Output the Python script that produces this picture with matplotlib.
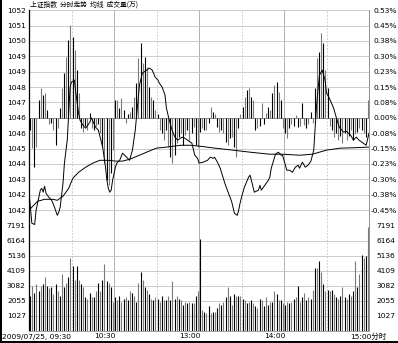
import numpy as np
import matplotlib
matplotlib.use('Agg')
import matplotlib.pyplot as plt
from matplotlib.patches import Rectangle

plt.rcParams['font.family'] = ['DejaVu Sans', 'Noto Sans CJK SC']

# ---------------- data ----------------
title = '上证指数  分时走势  均线  成交量(万)'
time_labels = ['2009/07/25, 09:30', '10:30', '13:00', '14:00', '15:00分时']
idx_labels = ['1052', '1051', '1050', '1049', '1049', '1048', '1047',
              '1046', '1046', '1045', '1044', '1043', '1042', '1042']
pct_labels = ['0.53%', '0.45%', '0.38%', '0.30%', '0.23%', '0.15%', '0.08%',
              '0.00%', '-0.08%', '-0.15%', '-0.23%', '-0.30%', '-0.38%', '-0.45%']
vol_ticks = [7191, 6164, 5136, 4109, 3082, 2055, 1027]

# price line: minute of session (0..240) and % change
price_min = [0, 2, 4, 5, 8, 9, 10, 11, 12, 14, 16, 18, 20, 21, 22, 23, 24, 25, 27, 28,
             29, 30, 32, 33, 35, 36, 38, 40, 43, 44, 47, 49, 52, 54, 55, 56, 57, 58, 59, 61,
             62, 64, 66, 69, 71, 73, 75, 77, 78, 80, 83, 85, 87, 89, 91, 92, 94, 96, 97, 99,
             101, 103, 105, 108, 110, 112, 115, 117, 119,
             120, 123, 126, 128, 130, 131, 133, 135, 138, 140, 143, 145, 147, 148, 149, 150,
             152, 155, 156, 157, 159, 162, 163, 164, 167, 169, 170, 171, 174, 176, 178, 179,
             182, 184, 186, 188, 190, 191, 193, 195, 197, 199, 201, 202, 203, 204, 205, 207,
             209, 210, 212, 215, 217, 219, 222, 224, 227, 229, 231, 233, 236, 238, 240]
price_pct = [-0.361, -0.519, -0.525, -0.455, -0.356, -0.347, -0.366, -0.337, -0.371, -0.391,
             -0.406, -0.440, -0.480, -0.465, -0.440, -0.381, -0.322, -0.223, -0.110, 0.023,
             0.151, 0.176, 0.186, 0.127, 0.023, -0.011, -0.036, -0.051, -0.021, 0.000,
             -0.046, -0.061, -0.144, -0.243, -0.307, -0.347, -0.366, -0.356, -0.307, -0.243,
             -0.223, -0.209, -0.174, -0.194, -0.209, -0.159, -0.061, 0.087, 0.161, 0.220,
             0.235, 0.245, 0.235, 0.201, 0.186, 0.171, 0.151, 0.112, 0.048, -0.011,
             -0.061, -0.095, -0.110, -0.095, -0.100, -0.110, -0.125, -0.184, -0.199,
             -0.223, -0.218, -0.209, -0.194, -0.199, -0.194, -0.218, -0.248, -0.317, -0.356,
             -0.411, -0.470, -0.480, -0.455, -0.420, -0.391, -0.342, -0.292, -0.282, -0.307,
             -0.366, -0.356, -0.332, -0.356, -0.327, -0.307, -0.292, -0.248, -0.179, -0.169,
             -0.184, -0.184, -0.258, -0.258, -0.268, -0.243, -0.233, -0.248, -0.218, -0.243,
             -0.233, -0.213, -0.159, -0.046, 0.063, 0.136, 0.210, 0.235, 0.186, 0.122,
             0.097, 0.048, 0.000, -0.046, -0.070, -0.066, -0.085, -0.110, -0.095, -0.110,
             -0.125, -0.135, -0.075]

# average price line
avg_min = [0, 2, 6, 11, 17, 20, 24, 28, 31, 35, 40, 45, 50, 56, 61, 66, 71, 78, 83, 90,
           97, 107, 114, 121, 131, 144, 156, 170, 179, 191, 200, 205, 210, 220, 230, 240]
avg_pct = [-0.456, -0.440, -0.411, -0.401, -0.401, -0.406, -0.386, -0.347, -0.297, -0.268,
           -0.243, -0.223, -0.209, -0.209, -0.213, -0.213, -0.204, -0.184, -0.169, -0.149,
           -0.144, -0.135, -0.135, -0.140, -0.149, -0.159, -0.169, -0.179, -0.179, -0.184,
           -0.179, -0.169, -0.159, -0.149, -0.147, -0.144]

# up/down strength bars in the price panel (%), morning and afternoon
ind_am = [-0.059, -0.148, -0.242, -0.143, 0.089, 0.148, 0.113, 0.123, 0.039, -0.030,
          -0.025, -0.059, -0.133, -0.049, 0.049, 0.148, 0.222, 0.301, 0.385, 0.458,
          0.399, 0.335, 0.237, 0.123, -0.049, -0.069, -0.039, -0.059, 0.025, -0.049,
          -0.059, -0.039, -0.030, -0.074, -0.143, -0.222, -0.306, -0.330, -0.271, -0.158,
          0.089, 0.089, 0.049, 0.099, 0.039, -0.025, 0.020, 0.030, 0.054, 0.104,
          0.173, 0.296, 0.370, 0.271, 0.301, 0.251, 0.153, 0.104, 0.089, 0.039,
          0.020, -0.059, -0.074, -0.108, -0.059, -0.143, -0.192, -0.222, -0.182, -0.123,
          -0.094, -0.074, -0.133, -0.084, -0.059, -0.108, -0.074, -0.044, -0.133, -0.143]
ind_pm = [-0.069, -0.049, -0.059, -0.059, -0.025, 0.054, 0.030, 0.020, -0.044, -0.069,
          -0.059, -0.074, -0.118, -0.133, -0.099, -0.094, -0.143, -0.192, -0.049, 0.020,
          0.054, 0.104, 0.138, 0.148, 0.104, 0.089, -0.059, -0.049, -0.039, 0.074,
          -0.030, 0.025, 0.054, 0.039, 0.123, 0.163, 0.177, 0.128, 0.089, -0.049,
          -0.074, -0.099, -0.049, -0.030, -0.039, 0.015, -0.044, -0.039, 0.074, -0.035,
          -0.049, -0.030, 0.030, -0.025, 0.148, 0.296, 0.325, 0.419, 0.370, 0.237,
          0.148, -0.039, -0.059, -0.094, -0.074, -0.108, -0.089, -0.123, -0.074, -0.108,
          -0.089, -0.059, -0.108, -0.079, -0.069, -0.049, -0.059, -0.074, -0.094, 0.089]

# volume bars, morning and afternoon
vol_am = [2400, 3100, 2600, 3200, 2700, 3100, 3200, 3700, 3100, 2900,
          3000, 2500, 3200, 2700, 2400, 3900, 3000, 3300, 3700, 5000,
          4400, 3500, 4400, 3500, 3200, 3000, 2300, 2200, 2600, 2300,
          2300, 2700, 3300, 2700, 3500, 4600, 3400, 3300, 3000, 2000,
          2300, 2100, 2400, 2000, 2200, 2300, 2100, 2700, 2600, 2400,
          2000, 3300, 4000, 3500, 3000, 2800, 2500, 2200, 2100, 2300,
          2200, 2000, 2400, 2100, 2100, 2400, 2100, 3400, 2200, 2400,
          2200, 2100, 1800, 2000, 1900, 2000, 1900, 1900, 2400, 2700]
vol_pm = [6300, 1400, 1300, 1200, 1700, 1200, 1300, 1300, 1600, 1900,
          1800, 2000, 2300, 3000, 2400, 1800, 2500, 2400, 2400, 2400,
          2200, 2100, 1900, 2000, 2100, 1900, 1700, 1600, 2200, 2100,
          1700, 2300, 1800, 2000, 2000, 2700, 2500, 2100, 2100, 1900,
          1800, 2000, 1900, 2000, 2200, 2300, 3100, 2000, 2300, 2600,
          2100, 2300, 2200, 2800, 4300, 4300, 4800, 4000, 3200, 2700,
          2800, 2700, 2800, 2500, 2300, 2200, 2400, 3000, 2300, 2200,
          2500, 2400, 2700, 4800, 3000, 3900, 5200, 5000, 5100, 7100]

# ---------------- layout ----------------
W, H = 398, 343
fig = plt.figure(figsize=(W / 100, H / 100), dpi=100)
L, R = 29, 369
P_TOP, P_BOT, V_BOT = 10.2, 225.5, 331.0
ax = fig.add_axes([L / W, 1 - P_BOT / H, (R - L) / W, (P_BOT - P_TOP) / H])
axv = fig.add_axes([L / W, 1 - V_BOT / H, (R - L) / W, (V_BOT - P_BOT) / H])

FS = 5.4
GRID = '#c4c4c4'
step = 0.53 / 7
pct_ticks = np.arange(7, -7, -1) * step

def slot_positions(n, start):
    return start + (np.arange(n) + 0.5) * (120.0 / n)

def alt_colors(n):
    return ['#000000' if i % 2 == 0 else '#7a7a7a' for i in range(n)]

for a in (ax, axv):
    a.set_xlim(0, 240)
    a.set_xticks([])
    for m in (30, 90, 150, 210):
        a.axvline(m, color=GRID, lw=0.6, ls=(0, (2, 2)), zorder=0)
    for m in (60, 120, 180):
        a.axvline(m, color='#b0b0b0', lw=0.7, zorder=0)
    a.spines['top'].set_visible(False)
    a.spines['left'].set_color('black')
    a.spines['left'].set_linewidth(0.9)
    a.spines['right'].set_color('#909090')
    a.spines['right'].set_linewidth(0.7)
    a.spines['bottom'].set_color('#a0a0a0')
    a.spines['bottom'].set_linewidth(0.7)

# price panel
ax.set_ylim(-0.53, 0.53)
for t in pct_ticks:
    ax.axhline(t, color=GRID, lw=0.6, zorder=0)
ax.axhline(0, color='#909090', lw=0.7, zorder=1)

for vals, start in ((ind_am, 0), (ind_pm, 120)):
    pos = slot_positions(len(vals), start)
    ax.vlines(pos, 0, vals, colors=alt_colors(len(vals)), lw=0.8, zorder=2)

ax.plot(avg_min, avg_pct, color='black', lw=0.7, zorder=3)
ax.plot(price_min, price_pct, color='black', lw=0.7, zorder=4)

ax.set_yticks(pct_ticks)
ax.set_yticklabels(idx_labels)
ax.tick_params(axis='y', length=0, pad=2.3, labelsize=FS)

ax2 = ax.twinx()
ax2.set_ylim(-0.53, 0.53)
ax2.set_yticks(pct_ticks)
ax2.set_yticklabels(pct_labels)
ax2.tick_params(axis='y', length=0, pad=20.0, labelsize=FS)
for lab in ax2.get_yticklabels():
    lab.set_horizontalalignment('right')
for s in ax2.spines.values():
    s.set_visible(False)

# volume panel
axv.set_ylim(0, 7191)
for t in vol_ticks[1:]:
    axv.axhline(t, color=GRID, lw=0.6, zorder=0)
for vals, start in ((vol_am, 0), (vol_pm, 120)):
    pos = slot_positions(len(vals), start)
    axv.vlines(pos, 0, vals, colors=alt_colors(len(vals)), lw=0.8, zorder=2)
axv.set_yticks(vol_ticks)
axv.set_yticklabels([str(v) for v in vol_ticks])
axv.tick_params(axis='y', length=0, pad=2.3, labelsize=FS)

axv2 = axv.twinx()
axv2.set_ylim(0, 7191)
axv2.set_yticks(vol_ticks)
axv2.set_yticklabels([str(v) for v in vol_ticks])
axv2.tick_params(axis='y', length=0, pad=19.0, labelsize=FS)
for lab in axv2.get_yticklabels():
    lab.set_horizontalalignment('right')
for s in axv2.spines.values():
    s.set_visible(False)

# time labels
ylab = 1 - 336.5 / H
fig.text(2 / W, ylab, time_labels[0], fontsize=FS, ha='left', va='center')
for m, lab in zip((60, 120, 180), time_labels[1:4]):
    axv.annotate(lab, xy=(m, 0), xycoords=('data', 'axes fraction'),
                 xytext=(1, -5.5 * 72 / 100), textcoords='offset points',
                 ha='right', va='center', fontsize=FS)
axv.annotate(time_labels[4], xy=(240, 0), xycoords=('data', 'axes fraction'),
             xytext=(18 * 72 / 100, -5.5 * 72 / 100), textcoords='offset points',
             ha='right', va='center', fontsize=FS)

# title
fig.text(30 / W, 1 - 4.5 / H, title, fontsize=4.9, ha='left', va='center',
         family=['Noto Sans CJK SC', 'DejaVu Sans'])

# image frame (left and bottom dark edges)
fig.add_artist(Rectangle((0, 0), 1.6 / W, 1, transform=fig.transFigure,
                         color='black', lw=0))
fig.add_artist(Rectangle((0, 0), 1, 2.4 / H, transform=fig.transFigure,
                         color='black', lw=0))

fig.savefig('out.png', dpi=100, facecolor='white')
